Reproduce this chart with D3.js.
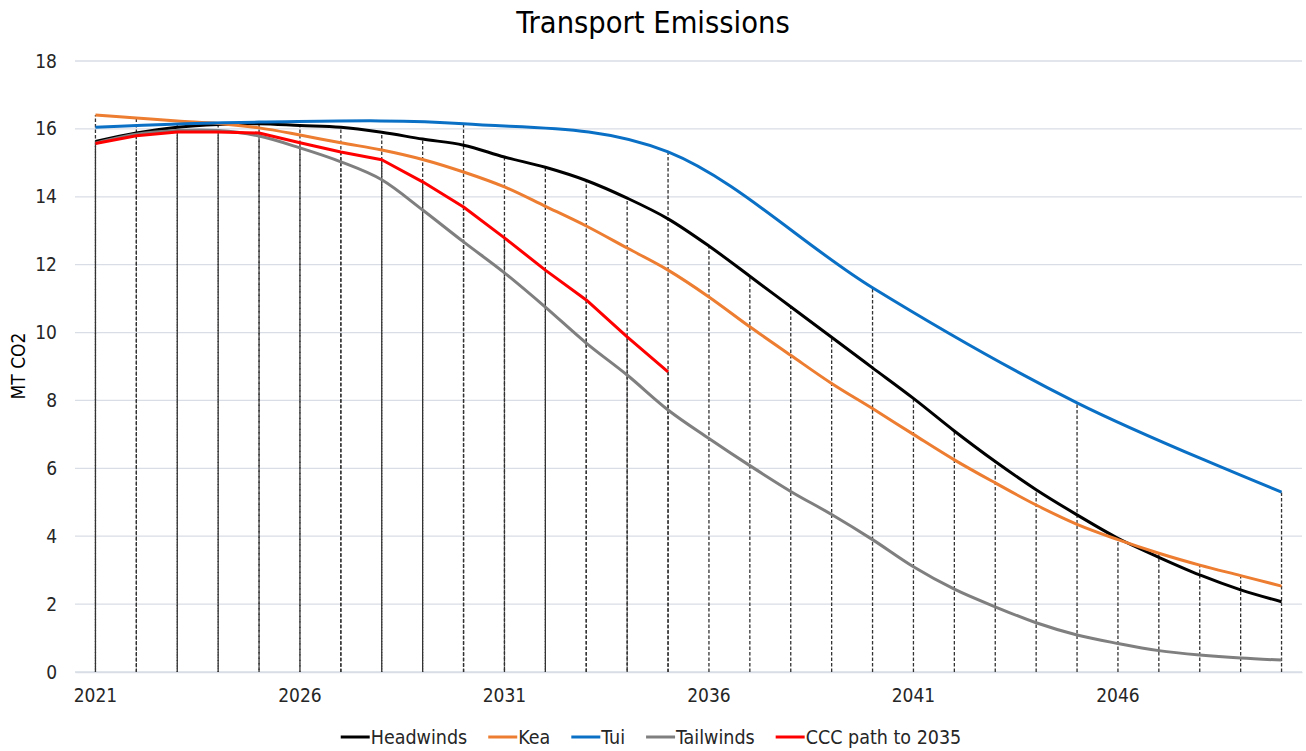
<!DOCTYPE html>
<html>
<head>
<meta charset="utf-8">
<script src="https://cdn.jsdelivr.net/npm/d3@7"></script>
<style>
  html, body { margin: 0; padding: 0; background: #fff; }
  svg text { font-family: "DejaVu Sans Condensed", "DejaVu Sans", sans-serif; font-stretch: condensed; fill: #262626; }
</style>
</head>
<body>
<svg id="chart" width="1306" height="751"></svg>
<script>
// ---- data ----
const years = d3.range(2021, 2051);
const xTickLabels = ["2021", "2026", "2031", "2036", "2041", "2046"];
const yTicks = [0, 2, 4, 6, 8, 10, 12, 14, 16, 18];

const headwinds = [15.63, 15.88, 16.05, 16.13, 16.15, 16.1, 16.05, 15.9, 15.7, 15.52,
  15.17, 14.87, 14.48, 13.96, 13.35, 12.55, 11.66, 10.76, 9.86, 8.96,
  8.06, 7.1, 6.2, 5.37, 4.63, 3.94, 3.38, 2.86, 2.42, 2.07];
const kea = [16.41, 16.32, 16.23, 16.16, 16.03, 15.82, 15.59, 15.38, 15.1, 14.73,
  14.29, 13.72, 13.14, 12.49, 11.84, 11.05, 10.17, 9.33, 8.5, 7.76,
  7.0, 6.25, 5.57, 4.92, 4.35, 3.9, 3.5, 3.15, 2.84, 2.53];
const tuiYears = [2021, 2025, 2030, 2035, 2040, 2045, 2050];
const tui = [16.05, 16.2, 16.15, 15.32, 11.32, 7.93, 5.3];
const tailwinds = [15.58, 15.84, 15.95, 15.95, 15.79, 15.44, 15.03, 14.5, 13.61, 12.67,
  11.76, 10.75, 9.69, 8.75, 7.72, 6.88, 6.08, 5.32, 4.64, 3.9,
  3.1, 2.44, 1.92, 1.45, 1.09, 0.84, 0.63, 0.5, 0.41, 0.35];
const cccYears = d3.range(2021, 2036);
const ccc = [15.57, 15.8, 15.91, 15.91, 15.88, 15.59, 15.32, 15.09, 14.44, 13.7,
  12.79, 11.84, 10.96, 9.87, 8.84];

const seriesNames = ["Headwinds", "Kea", "Tui", "Tailwinds", "CCC path to 2035"];
const seriesColors = ["#000000", "#ED7D31", "#0A70C6", "#7F7F7F", "#FF0000"];

// ---- layout ----
const svg = d3.select("#chart");
const plot = { left: 75, right: 1302, top: 61, bottom: 672 };

const x = d3.scaleBand().domain(years).range([plot.left, plot.right]);
const xc = yr => x(yr) + x.bandwidth() / 2;
const y = d3.scaleLinear().domain([0, 18]).range([plot.bottom, plot.top]);

// title
svg.append("text").attr("x", 653).attr("y", 33).attr("text-anchor", "middle")
  .style("font-size", "30.5px").style("fill", "#000").text("Transport Emissions");

// gridlines
svg.append("g").selectAll("line").data(yTicks).join("line")
  .attr("x1", plot.left).attr("x2", plot.right)
  .attr("y1", d => y(d)).attr("y2", d => y(d))
  .attr("stroke", "#D9DEE6").attr("stroke-width", 1.3);

// y axis labels
const yAxis = d3.axisLeft(y).tickValues(yTicks).tickSize(0).tickPadding(18);
const gy = svg.append("g").attr("transform", `translate(${plot.left},0)`).call(yAxis);
gy.select(".domain").remove();
gy.selectAll("text").style("font-size", "19px").style("font-family", null).attr("fill", null);

// y title
svg.append("text").attr("transform", "translate(25,366) rotate(-90)")
  .attr("text-anchor", "middle").style("font-size", "19px").style("fill", "#000").text("MT CO2");

// x axis labels
const xAxis = d3.axisBottom(x).tickValues(years.filter(yr => xTickLabels.includes(String(yr))))
  .tickSize(0).tickPadding(17);
const gx = svg.append("g").attr("transform", `translate(0,${plot.bottom})`).call(xAxis);
gx.select(".domain").attr("stroke", "#D9DEE6").attr("stroke-width", 1.3);
gx.selectAll("text").style("font-size", "19px").style("font-family", null).attr("fill", null);

// drop lines
const mainSeries = [
  { yrs: years, vals: headwinds },
  { yrs: years, vals: kea },
  { yrs: tuiYears, vals: tui },
  { yrs: years, vals: tailwinds }
];
const maxByYear = years.map(yr => {
  let m = -Infinity;
  mainSeries.forEach(s => { const i = s.yrs.indexOf(yr); if (i >= 0) m = Math.max(m, s.vals[i]); });
  return { yr, v: m };
});
const gDrop = svg.append("g");
gDrop.selectAll("line.main").data(maxByYear).join("line").attr("class", "main")
  .attr("x1", d => xc(d.yr)).attr("x2", d => xc(d.yr))
  .attr("y1", y(0)).attr("y2", d => y(d.v))
  .attr("stroke", "#333").attr("stroke-width", 1.3).attr("stroke-dasharray", "3.5,2");
gDrop.selectAll("line.ccc").data(cccYears.map((yr, i) => ({ yr, v: ccc[i] }))).join("line").attr("class", "ccc")
  .attr("x1", d => xc(d.yr)).attr("x2", d => xc(d.yr))
  .attr("y1", d => y(d.v)).attr("y2", y(0))
  .attr("stroke", "#333").attr("stroke-width", 1.3).attr("stroke-dasharray", "3.5,2");

// series lines
const smooth = d3.line().x(d => xc(d[0])).y(d => y(d[1])).curve(d3.curveCardinal.tension(0));
const straight = d3.line().x(d => xc(d[0])).y(d => y(d[1]));
const allSeries = [
  { pts: years.map((yr, i) => [yr, headwinds[i]]), gen: smooth },
  { pts: years.map((yr, i) => [yr, kea[i]]), gen: smooth },
  { pts: tuiYears.map((yr, i) => [yr, tui[i]]), gen: smooth },
  { pts: years.map((yr, i) => [yr, tailwinds[i]]), gen: smooth },
  { pts: cccYears.map((yr, i) => [yr, ccc[i]]), gen: straight }
];
allSeries.forEach((s, i) => {
  svg.append("path").attr("d", s.gen(s.pts)).attr("fill", "none")
    .attr("stroke", seriesColors[i]).attr("stroke-width", 3)
    .attr("stroke-linejoin", "round");
});

// legend
const lg = svg.append("g");
let cx = 0;
seriesNames.forEach((name, i) => {
  const g = lg.append("g");
  g.append("line").attr("x1", 0).attr("x2", 29).attr("y1", 0).attr("y2", 0)
    .attr("stroke", seriesColors[i]).attr("stroke-width", 3);
  const t = g.append("text").attr("x", 30).attr("y", 7).style("font-size", "19.5px").text(name);
  const w = 30 + t.node().getComputedTextLength();
  g.attr("transform", `translate(${cx},737)`);
  cx += w + 21;
});
const total = cx - 21;
lg.attr("transform", `translate(${651 - total / 2},0)`);
</script>
</body>
</html>
